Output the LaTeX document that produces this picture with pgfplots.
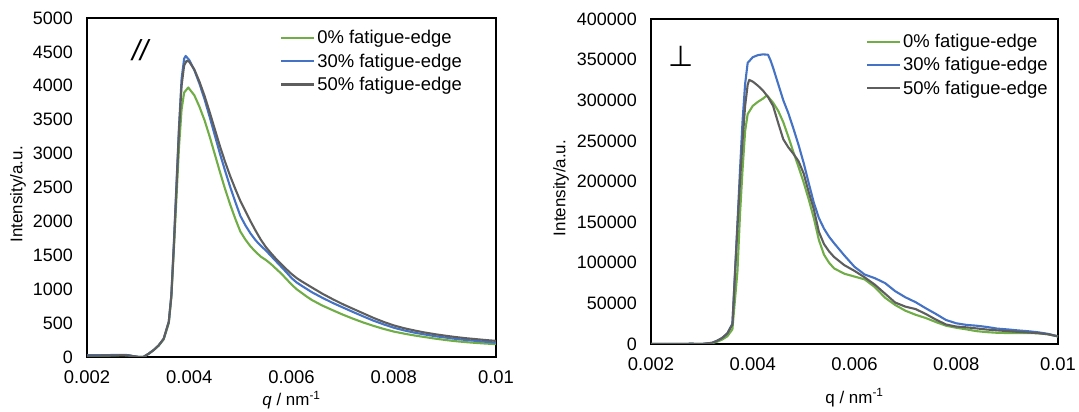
\documentclass[border=0pt]{standalone}
\usepackage{pgfplots}
\pgfplotsset{compat=1.18}
\usepackage{fontspec}
\setmainfont{Liberation Sans}
\newfontfamily\dejavu{DejaVu Sans}
\definecolor{cgreen}{HTML}{70AD47}
\definecolor{cblue}{HTML}{4472C4}
\definecolor{cgray}{HTML}{5E5E5E}
\pgfplotsset{
  myax/.style={
    anchor=south west, scale only axis,
    xmin=0.002, xmax=0.01, ymin=0,
    xtick={0.002,0.004,0.006,0.008,0.01},
    xticklabels={0.002,0.004,0.006,0.008,0.01},
    scaled x ticks=false, scaled y ticks=false,
    major tick length=0pt,
    axis line style={black, line width=1.1bp},
    /pgf/number format/assume math mode=true,
    xticklabel style={font=\fontsize{18.5}{19}\selectfont, inner sep=0pt, yshift=-13bp},
    yticklabel style={font=\fontsize{18}{19}\selectfont, inner sep=0pt, xshift=-14bp},
    label style={font=\fontsize{17}{18}\selectfont},
    legend style={draw=none, fill=none, font=\fontsize{18.5}{19}\selectfont,
      row sep=4.5bp, inner sep=0pt, anchor=north west},
    legend cell align=left,
    legend image code/.code={\draw[#1] (0bp,0bp) -- (33bp,0bp);},
    every axis plot/.append style={line width=2.1bp, line join=round},
  }
}
\begin{document}
\begin{tikzpicture}
\useasboundingbox (0bp,0bp) rectangle (1079bp,412bp);
% ---------- left panel ----------
\begin{axis}[myax, at={(87bp,55bp)}, width=409bp, height=339bp, ymax=5000,
  ytick={0,500,1000,1500,2000,2500,3000,3500,4000,4500,5000},
  yticklabels={0,500,1000,1500,2000,2500,3000,3500,4000,4500,5000},
  xlabel={\textit{q} / nm\textsuperscript{-1}},
  ylabel={Intensity/a.u.},
  xlabel style={at={(axis description cs:0.5,-0.128)}, anchor=center},
  ylabel style={at={(axis description cs:-0.169,0.48)}, anchor=center},
  legend style={at={(axis description cs:0.472,0.97)}},
]
\addplot[cgreen] coordinates {
(0.0020,20)(0.0024,22)(0.0027,28)(0.0028,25)(0.0029,12)(0.0030,2)(0.0031,0)
(0.0032,45)(0.0033,100)(0.0034,165)(0.0035,260)(0.0036,500)(0.00365,880)
(0.0037,1600)(0.00375,2350)(0.0038,3100)(0.00385,3650)(0.0039,3900)(0.00398,3975)
(0.0041,3860)(0.0042,3690)(0.0043,3490)(0.0044,3250)(0.0045,2990)(0.0046,2730)
(0.0047,2480)(0.0048,2250)(0.0049,2040)(0.0050,1850)(0.0051,1730)(0.0052,1630)
(0.0053,1550)(0.0054,1480)(0.0055,1430)(0.0056,1370)(0.0057,1300)(0.0058,1230)
(0.0059,1150)(0.0060,1070)(0.0061,1000)(0.0062,945)(0.0063,890)(0.0064,840)
(0.0066,760)(0.0068,692)(0.0070,626)
(0.0072,566)(0.0074,510)(0.0076,460)(0.0078,415)(0.0080,375)(0.0082,345)
(0.0084,318)(0.0086,295)(0.0088,272)(0.0090,252)(0.0092,234)(0.0094,220)
(0.0096,208)(0.0098,198)(0.0100,190)};
\addlegendentry{0\% fatigue-edge}
\addplot[cblue] coordinates {
(0.0020,25)(0.0024,28)(0.0027,32)(0.0028,28)(0.0029,14)(0.0030,3)(0.0031,0)
(0.0032,45)(0.0033,100)(0.0034,170)(0.0035,270)(0.0036,520)(0.00365,920)
(0.0037,1700)(0.00375,2550)(0.0038,3400)(0.00385,4100)(0.0039,4400)(0.00393,4440)
(0.0040,4380)(0.0041,4230)(0.0042,4030)(0.0043,3800)(0.0044,3540)(0.0045,3270)
(0.0046,3000)(0.0047,2750)(0.0048,2510)(0.0049,2290)(0.0050,2080)(0.0051,1940)
(0.0052,1820)(0.0053,1720)(0.0054,1640)(0.0055,1570)(0.0056,1490)(0.0057,1410)
(0.0058,1330)(0.0059,1250)(0.0060,1165)(0.0061,1100)(0.0062,1050)
(0.0064,955)(0.0066,875)(0.0068,800)(0.0070,732)
(0.0072,665)(0.0074,600)(0.0076,537)(0.0078,482)(0.0080,432)(0.0082,393)
(0.0084,360)(0.0086,333)(0.0088,308)(0.0090,288)(0.0092,268)(0.0094,252)
(0.0096,238)(0.0098,224)(0.0100,212)};
\addlegendentry{30\% fatigue-edge}
\addplot[cgray] coordinates {
(0.0020,20)(0.0024,22)(0.0027,26)(0.0028,24)(0.0029,12)(0.0030,2)(0.0031,0)
(0.0032,45)(0.0033,100)(0.0034,170)(0.0035,270)(0.0036,520)(0.00365,900)
(0.0037,1650)(0.00375,2500)(0.0038,3350)(0.00385,4000)(0.0039,4300)(0.00395,4370)
(0.0040,4355)(0.0041,4240)(0.0042,4060)(0.0043,3850)(0.0044,3610)(0.0045,3360)
(0.0046,3110)(0.0047,2880)(0.0048,2670)(0.0049,2480)(0.0050,2300)(0.0051,2150)
(0.0052,2000)(0.0053,1860)(0.0054,1730)(0.0055,1620)(0.0056,1530)(0.0057,1445)
(0.0058,1370)(0.0059,1295)(0.0060,1225)(0.0061,1165)(0.0062,1115)
(0.0064,1025)(0.0066,935)(0.0068,855)(0.0070,780)
(0.0072,712)(0.0074,645)(0.0076,578)(0.0078,518)(0.0080,466)(0.0082,425)
(0.0084,392)(0.0086,362)(0.0088,337)(0.0090,315)(0.0092,295)(0.0094,278)
(0.0096,264)(0.0098,250)(0.0100,238)};
\addlegendentry{50\% fatigue-edge}
\node[font=\fontsize{29}{29}\selectfont\itshape] at (axis description cs:0.13,0.905) {//};
\end{axis}
% ---------- right panel ----------
\begin{axis}[myax, at={(651bp,68bp)}, width=407bp, height=325bp, ymax=400000,
  ytick={0,50000,100000,150000,200000,250000,300000,350000,400000},
  yticklabels={0,50000,100000,150000,200000,250000,300000,350000,400000},
  xlabel={q / nm\textsuperscript{-1}},
  ylabel={Intensity/a.u.},
  xlabel style={at={(axis description cs:0.5,-0.165)}, anchor=center},
  ylabel style={at={(axis description cs:-0.221,0.48)}, anchor=center},
  legend style={at={(axis description cs:0.528,0.96)}},
]
\addplot[cgreen] coordinates {
(0.0020,0)(0.0025,0)(0.0028,300)(0.0030,0)(0.0032,1000)(0.0033,2800)(0.0034,5500)
(0.0035,9500)(0.0036,18000)(0.0037,90000)(0.00375,160000)(0.0038,215000)
(0.00385,262000)(0.0039,283000)(0.0040,293000)(0.0041,298000)(0.0042,302000)
(0.00428,306000)(0.0044,297000)(0.0045,287000)(0.0046,273000)(0.0047,255000)
(0.0048,236000)(0.0049,218000)(0.0050,199000)(0.0051,178000)(0.0052,155000)
(0.0053,128000)(0.0054,110000)(0.0055,100000)(0.0056,93000)(0.0058,86500)
(0.0060,83000)(0.0062,79500)(0.0064,70000)(0.0066,57000)(0.0068,48000)
(0.0070,41000)(0.0072,36000)(0.0074,32000)(0.0076,27000)(0.0078,22500)
(0.0080,20000)(0.0082,18000)(0.0084,15800)(0.0086,14600)(0.0088,13800)
(0.0090,13500)(0.0092,13500)(0.0094,13500)(0.0096,13200)(0.0098,12000)(0.0100,9500)};
\addlegendentry{0\% fatigue-edge}
\addplot[cblue] coordinates {
(0.0020,0)(0.0025,0)(0.0028,300)(0.0030,0)(0.0032,1500)(0.0033,4000)(0.0034,7500)
(0.0035,13000)(0.0036,25000)(0.0037,150000)(0.00375,215000)(0.0038,275000)(0.00385,320000)
(0.0039,346000)(0.0040,353000)(0.0041,355500)(0.0042,356500)(0.0043,356000)
(0.00435,349000)(0.0044,340000)(0.0045,320000)(0.0046,300000)(0.0047,284000)
(0.0048,265000)(0.0049,245000)(0.0050,223000)(0.0051,198000)(0.0052,174000)
(0.0053,155000)(0.0054,142000)(0.0055,132000)(0.0056,124000)(0.0058,109000)
(0.0060,95000)(0.0062,85500)(0.0064,81000)(0.0066,75000)(0.0068,65000)
(0.0070,57500)(0.0072,51500)(0.0074,44000)(0.0076,37000)(0.0078,29500)
(0.0080,25500)(0.0082,23500)(0.0084,22500)(0.0086,21000)(0.0088,19000)
(0.0090,18000)(0.0092,16800)(0.0094,15800)(0.0096,14500)(0.0098,12500)(0.0100,9400)};
\addlegendentry{30\% fatigue-edge}
\addplot[cgray] coordinates {
(0.0020,0)(0.0025,0)(0.0028,300)(0.0030,0)(0.0032,1500)(0.0033,4000)(0.0034,7500)
(0.0035,13000)(0.0036,24000)(0.0037,145000)(0.00375,200000)(0.0038,250000)(0.00385,293000)
(0.0039,319000)(0.00393,325000)(0.0040,323000)(0.0041,318000)(0.0042,312000)
(0.0043,304000)(0.0044,293000)(0.0045,272000)(0.0046,252000)(0.0047,242000)
(0.0048,234000)(0.0049,225000)(0.0050,210000)(0.0051,187000)(0.0052,166000)
(0.0053,138000)(0.0054,123000)(0.0055,114000)(0.0056,107000)(0.0058,97000)
(0.0060,90000)(0.0062,82000)(0.0064,73000)(0.0066,62000)(0.0068,51000)
(0.0070,46000)(0.0072,43000)(0.0074,37000)(0.0076,30000)(0.0078,24000)
(0.0080,21500)(0.0082,20500)(0.0084,19200)(0.0086,17800)(0.0088,16800)
(0.0090,15900)(0.0092,15000)(0.0094,14200)(0.0096,13400)(0.0098,12000)(0.0100,9400)};
\addlegendentry{50\% fatigue-edge}
\node[font=\fontsize{29}{29}\selectfont\dejavu] at (axis description cs:0.074,0.885) {⊥};
\end{axis}
\end{tikzpicture}
\end{document}
